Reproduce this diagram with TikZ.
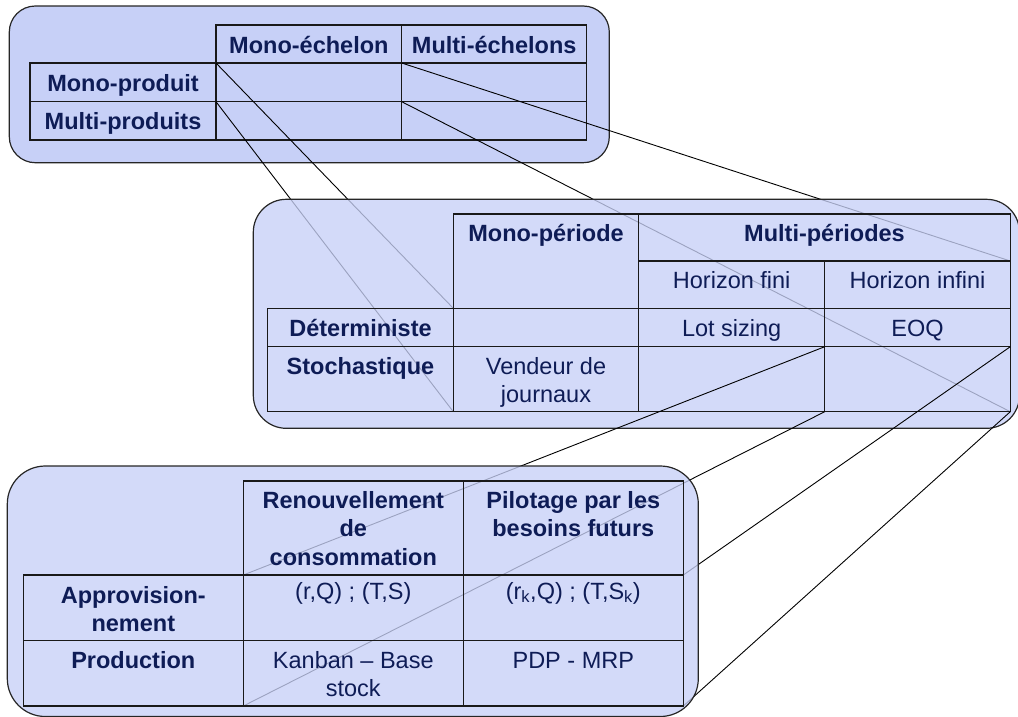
\documentclass[tikz,border=0pt]{standalone}
\usepackage{fontspec}
\setmainfont{Liberation Sans}
\definecolor{panelfill}{RGB}{199,208,247}
\definecolor{navy}{RGB}{14,28,86}
\newcommand\celltext[1]{\begin{tabular}[t]{@{}c@{}}#1\end{tabular}}
\pgfdeclarelayer{ptop}
\pgfdeclarelayer{linkA}
\pgfdeclarelayer{pmid}
\pgfdeclarelayer{linkB}
\pgfsetlayers{ptop,linkA,pmid,linkB,main}
\tikzset{
  panel/.style={draw=black!85, line width=1.2pt, fill=panelfill},
  tpanel/.style={panel, fill opacity=0.78},
  cellbox/.style={draw=black!90, line width=1.5pt, anchor=north west, inner sep=0pt, outer sep=0pt},
  hd/.style={anchor=base, text=navy, font=\fontsize{23.5}{28.4}\selectfont\bfseries, inner sep=0pt},
  tx/.style={anchor=base, text=navy, font=\fontsize{23.5}{28.4}\selectfont, inner sep=0pt},
  link/.style={draw=black, line width=0.9pt},
}
% \mkcell{name}{x1}{y1}{x2}{y2}
\newcommand\mkcell[5]{\node[cellbox, minimum width={(#4-#2)*1pt}, minimum height={(#5-#3)*1pt}] (#1) at (#2,#3) {};}
\begin{document}
\begin{tikzpicture}[x=1pt,y=-1pt]
\useasboundingbox (0,0) rectangle (1018,716);

% ---------------- top panel ----------------
\begin{pgfonlayer}{ptop}
\draw[panel, rounded corners=26pt] (9.3,6) rectangle (609.3,162.7);
\mkcell{Th1}{216}{25}{401.7}{63}
\mkcell{Th2}{401.7}{25}{586.7}{63}
\mkcell{Tr1}{30}{63}{216}{101.7}
\mkcell{Tr2}{30}{101.7}{216}{140}
\mkcell{Tc11}{216}{63}{401.7}{101.7}
\mkcell{Tc12}{401.7}{63}{586.7}{101.7}
\mkcell{Tc21}{216}{101.7}{401.7}{140}
\mkcell{Tc22}{401.7}{101.7}{586.7}{140}
\node[hd] (tTh1) at ([yshift=-28pt]Th1.north) {Mono-échelon};
\node[hd] (tTh2) at ([yshift=-28pt]Th2.north) {Multi-échelons};
\node[hd] (tTr1) at ([yshift=-28pt]Tr1.north) {Mono-produit};
\node[hd] (tTr2) at ([yshift=-28pt]Tr2.north) {Multi-produits};
\end{pgfonlayer}

% ---------------- middle panel ----------------
\begin{pgfonlayer}{pmid}
\draw[tpanel, rounded corners=33pt] (253.3,199.3) rectangle (1019.5,428.3);
\mkcell{Mh1}{453.3}{214}{638.7}{308.3}
\mkcell{Mh2}{638.7}{214}{1010.3}{261}
\mkcell{Mhf}{638.7}{261}{824.7}{308.3}
\mkcell{Mhi}{824.7}{261}{1010.3}{308.3}
\mkcell{Mdet}{267.7}{308.3}{453.3}{346.7}
\mkcell{Md0}{453.3}{308.3}{638.7}{346.7}
\mkcell{Md1}{638.7}{308.3}{824.7}{346.7}
\mkcell{Md2}{824.7}{308.3}{1010.3}{346.7}
\mkcell{Msto}{267.7}{346.7}{453.3}{411.7}
\mkcell{Ms0}{453.3}{346.7}{638.7}{411.7}
\mkcell{Ms1}{638.7}{346.7}{824.7}{411.7}
\mkcell{Ms2}{824.7}{346.7}{1010.3}{411.7}
\node[hd] (tMh1) at ([yshift=-27.5pt]Mh1.north) {Mono-période};
\node[hd] (tMh2) at ([yshift=-27.5pt]Mh2.north) {Multi-périodes};
\node[tx] (tMhf) at ([yshift=-27.5pt]Mhf.north) {Horizon fini};
\node[tx] (tMhi) at ([yshift=-27.5pt]Mhi.north) {Horizon infini};
\node[hd] (tMdet) at ([yshift=-27.8pt]Mdet.north) {Déterministe};
\node[tx] (tMd1) at ([yshift=-27.8pt]Md1.north) {Lot sizing};
\node[tx] (tMd2) at ([yshift=-27.8pt]Md2.north) {EOQ};
\node[hd] (tMsto) at ([yshift=-27.5pt]Msto.north) {Stochastique};
\node[tx] (tMs0) at ([yshift=-27.5pt]Ms0.north) {\celltext{Vendeur de\\journaux}};
\end{pgfonlayer}

% ---------------- bottom panel ----------------
\draw[tpanel, rounded corners=38pt] (7.3,466) rectangle (698.3,716.5);
\mkcell{Bh1}{243.3}{481}{463.3}{575}
\mkcell{Bh2}{463.3}{481}{683.3}{575}
\mkcell{Bap}{23.3}{575}{243.3}{640.7}
\mkcell{Bap1}{243.3}{575}{463.3}{640.7}
\mkcell{Bap2}{463.3}{575}{683.3}{640.7}
\mkcell{Bpr}{23.3}{640.7}{243.3}{706}
\mkcell{Bpr1}{243.3}{640.7}{463.3}{706}
\mkcell{Bpr2}{463.3}{640.7}{683.3}{706}
\node[hd] (tBh1) at ([yshift=-27.5pt]Bh1.north) {\celltext{Renouvellement\\de\\consommation}};
\node[hd] (tBh2) at ([yshift=-27.5pt]Bh2.north) {\celltext{Pilotage par les\\besoins futurs}};
\node[hd] (tBap) at ([yshift=-28pt]Bap.north) {\celltext{Approvision-\\nement}};
\node[tx] (tBap1) at ([yshift=-24pt]Bap1.north) {(r,Q) ; (T,S)};
\node[tx] (tBap2) at ([yshift=-24pt]Bap2.north) {(r\textsubscript{k},Q) ; (T,S\textsubscript{k})};
\node[hd] (tBpr) at ([yshift=-28pt]Bpr.north) {Production};
\node[tx] (tBpr1) at ([yshift=-27.5pt]Bpr1.north) {\celltext{Kanban -- Base\\stock}};
\node[tx] (tBpr2) at ([yshift=-27.5pt]Bpr2.north) {PDP - MRP};

% ---------------- connectors ----------------
\begin{pgfonlayer}{linkA}
\draw[link] (Tc11.north west) -- (Md0.north west);
\draw[link] (Tc21.north west) -- (Ms0.south west);
\draw[link] (Tc12.north west) -- (Mhi.north east);
\draw[link] (Tc22.north west) -- (Ms2.south east);
\end{pgfonlayer}
\begin{pgfonlayer}{linkB}
\draw[link] (Ms1.north east) -- (Bap1.north west);
\draw[link] (Ms1.south east) -- (Bpr1.south west);
\draw[link] (Ms2.north east) -- (Bap2.north east);
\draw[link] (Ms2.south east) -- (Bpr2.south east);
\end{pgfonlayer}
\end{tikzpicture}
\end{document}
